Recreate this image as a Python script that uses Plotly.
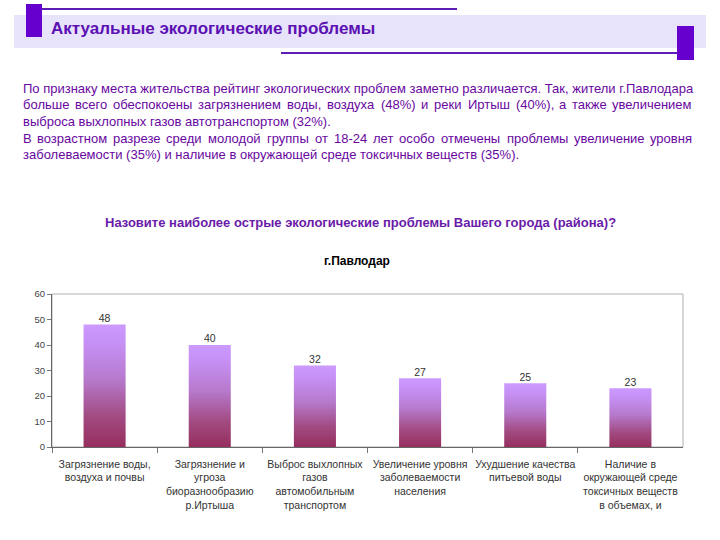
import plotly.graph_objects as go

# ---------------- data ----------------
categories = [
    "Загрязнение воды,<br>воздуха и почвы",
    "Загрязнение и<br>угроза<br>биоразнообразию<br>р.Иртыша",
    "Выброс выхлопных<br>газов<br>автомобильным<br>транспортом",
    "Увеличение уровня<br>заболеваемости<br>населения",
    "Ухудшение качества<br>питьевой воды",
    "Наличие в<br>окружающей среде<br>токсичных веществ<br>в объемах, и",
]
values = [48, 40, 32, 27, 25, 23]
y_ticks = [0, 10, 20, 30, 40, 50, 60]

header_title = "Актуальные экологические проблемы"
question_title = "Назовите наиболее острые экологические проблемы Вашего города (района)?"
chart_title = "г.Павлодар"
paragraph_lines = [
    ("По признаку места жительства рейтинг экологических проблем заметно различается. Так, жители г.Павлодара", False),
    ("больше всего обеспокоены загрязнением воды, воздуха (48%) и реки Иртыш (40%), а также увеличением", True),
    ("выброса выхлопных газов автотранспортом (32%).", False),
    ("В возрастном разрезе среди молодой группы от 18-24 лет особо отмечены проблемы увеличение уровня", True),
    ("заболеваемости (35%) и наличие в окружающей среде токсичных веществ (35%).", False),
]

# ---------------- helpers ----------------
W, H = 720, 540


def px(x):
    return x / W


def py(y):
    return 1 - y / H


# approximate Arial / Liberation Sans advance widths (1/1000 em)
_w = {}
for ch, v in zip("абвгдеёжзийклмнопрстуфхцчшщъыьэюя",
                 [556, 573, 531, 365, 583, 556, 556, 669, 458, 559, 559, 438, 583, 688, 552, 556,
                  542, 556, 500, 458, 500, 823, 500, 573, 521, 802, 823, 625, 719, 521, 510, 750, 542]):
    _w[ch] = v
for ch, v in zip("АБВГДЕЁЖЗИЙКЛМНОПРСТУФХЦЧШЩЪЫЬЭЮЯ",
                 [667, 656, 667, 542, 677, 667, 667, 923, 604, 719, 719, 583, 656, 833, 722, 778,
                  719, 667, 722, 611, 635, 760, 667, 740, 667, 917, 938, 792, 885, 656, 719, 1010, 722]):
    _w[ch] = v
for ch in "0123456789":
    _w[ch] = 556
_w.update({".": 278, ",": 278, "(": 333, ")": 333, "%": 889, "-": 333, " ": 278})


def text_width(s, size):
    return sum(_w.get(c, 556) for c in s) * size / 1000.0


TEXT_COLOR = "#68079F"
PURPLE = "#6600CC"
LINE_PURPLE = "#5E1DB5"
FONT = "Liberation Sans, Arial, sans-serif"

fig = go.Figure()

# ---------------- bars (gradient filled) ----------------
half = 0.2
for i, v in enumerate(values):
    fig.add_trace(go.Scatter(
        x=[i - half, i - half, i + half, i + half, i - half],
        y=[0, v, v, 0, 0],
        mode="lines",
        fill="toself",
        line=dict(width=0, color="rgba(0,0,0,0)"),
        fillgradient=dict(
            type="vertical",
            colorscale=[[0, "#962E5E"], [0.25, "#A24B82"], [0.55, "#B679CC"],
                        [0.85, "#C690F5"], [1, "#CC9AFF"]],
        ),
        hoverinfo="skip",
        showlegend=False,
    ))

# value labels
fig.add_trace(go.Scatter(
    x=list(range(len(values))),
    y=values,
    mode="text",
    text=[str(v) for v in values],
    textposition="top center",
    textfont=dict(family=FONT, size=10.5, color="#333333"),
    showlegend=False,
    hoverinfo="skip",
))

x0d, x1d = px(52), px(683)
y0d, y1d = py(447), py(294)

fig.update_layout(
    width=W, height=H,
    margin=dict(l=0, r=0, t=0, b=0, pad=0, autoexpand=False),
    paper_bgcolor="white",
    plot_bgcolor="white",
    showlegend=False,
    font=dict(family=FONT),
    xaxis=dict(
        domain=[x0d, x1d],
        range=[-0.5, len(values) - 0.5],
        tickmode="array",
        tickvals=list(range(len(categories))),
        ticktext=categories,
        ticks="outside", ticklen=7, tickcolor="rgba(0,0,0,0)",
        tickfont=dict(family=FONT, size=10.5, color="#333333"),
        showline=True, linecolor="#666666", linewidth=1,
        showgrid=False, zeroline=False,
        fixedrange=True, automargin=False,
        minor=dict(tickmode="array", tickvals=[-0.5, 0.5, 1.5, 2.5, 3.5, 4.5],
                   ticks="outside", ticklen=5, tickcolor="#777777", showgrid=False),
    ),
    yaxis=dict(
        domain=[y0d, y1d],
        range=[0, 60],
        tickmode="array",
        tickvals=y_ticks,
        ticks="outside", ticklen=4, tickcolor="#777777",
        tickfont=dict(family=FONT, size=9.5, color="#444444"),
        showline=True, linecolor="#666666", linewidth=1,
        showgrid=False, zeroline=False,
        fixedrange=True, automargin=False,
    ),
)

shapes = [
    # plot area border (light)
    dict(type="rect", xref="paper", yref="paper", x0=x0d, x1=x1d, y0=y0d, y1=y1d,
         line=dict(color="#B0B0B0", width=1), layer="below"),
    # header band
    dict(type="rect", xref="paper", yref="paper", x0=px(14), x1=px(706), y0=py(48), y1=py(15),
         fillcolor="#E6E3FA", line=dict(width=0), layer="below"),
    # top line
    dict(type="line", xref="paper", yref="paper", x0=px(42), x1=px(457), y0=py(9), y1=py(9),
         line=dict(color=LINE_PURPLE, width=2)),
    # bottom line
    dict(type="line", xref="paper", yref="paper", x0=px(281), x1=px(678), y0=py(53), y1=py(53),
         line=dict(color=LINE_PURPLE, width=2)),
    # left block
    dict(type="rect", xref="paper", yref="paper", x0=px(26), x1=px(42), y0=py(37), y1=py(4),
         fillcolor=PURPLE, line=dict(width=0)),
    # right block
    dict(type="rect", xref="paper", yref="paper", x0=px(677), x1=px(694), y0=py(60), y1=py(26),
         fillcolor=PURPLE, line=dict(width=0)),
]
fig.update_layout(shapes=shapes)

annotations = [
    dict(text=f"<b>{header_title}</b>", x=px(49), y=py(29), xref="paper", yref="paper",
         xanchor="left", yanchor="middle", showarrow=False,
         font=dict(family=FONT, size=17, color="#5C10B4")),
    dict(text=f"<b>{question_title}</b>", x=px(360), y=py(222), xref="paper", yref="paper",
         xanchor="center", yanchor="middle", showarrow=False,
         font=dict(family=FONT, size=13, color="#6A1BA8")),
    dict(text=f"<b>{chart_title}</b>", x=px(357), y=py(261), xref="paper", yref="paper",
         xanchor="center", yanchor="middle", showarrow=False,
         font=dict(family=FONT, size=12, color="#000000")),
]

# paragraph text (justified lines built word by word)
PSIZE = 13
left_px, right_px = 22, 693
line_y = [88, 105, 121, 138, 154]
for (line, justify), yy in zip(paragraph_lines, line_y):
    if not justify:
        annotations.append(dict(text=line, x=px(left_px), y=py(yy), xref="paper", yref="paper",
                                xanchor="left", yanchor="middle", showarrow=False, borderpad=0,
                                font=dict(family=FONT, size=PSIZE, color=TEXT_COLOR)))
        continue
    words = line.split(" ")
    widths = [text_width(wd, PSIZE) for wd in words]
    gap = (right_px - left_px - sum(widths)) / (len(words) - 1)
    pos = left_px
    for k, (wd, ww) in enumerate(zip(words, widths)):
        if k == 0:
            xa, xx = "left", pos
        elif k == len(words) - 1:
            xa, xx = "right", right_px
        else:
            xa, xx = "center", pos + ww / 2
        annotations.append(dict(text=wd, x=px(xx), y=py(yy), xref="paper", yref="paper",
                                xanchor=xa, yanchor="middle", showarrow=False, borderpad=0,
                                font=dict(family=FONT, size=PSIZE, color=TEXT_COLOR)))
        pos += ww + gap

fig.update_layout(annotations=annotations)

fig.write_html("out.html", config={"displayModeBar": False},
               post_script="document.body.style.margin='0';")
